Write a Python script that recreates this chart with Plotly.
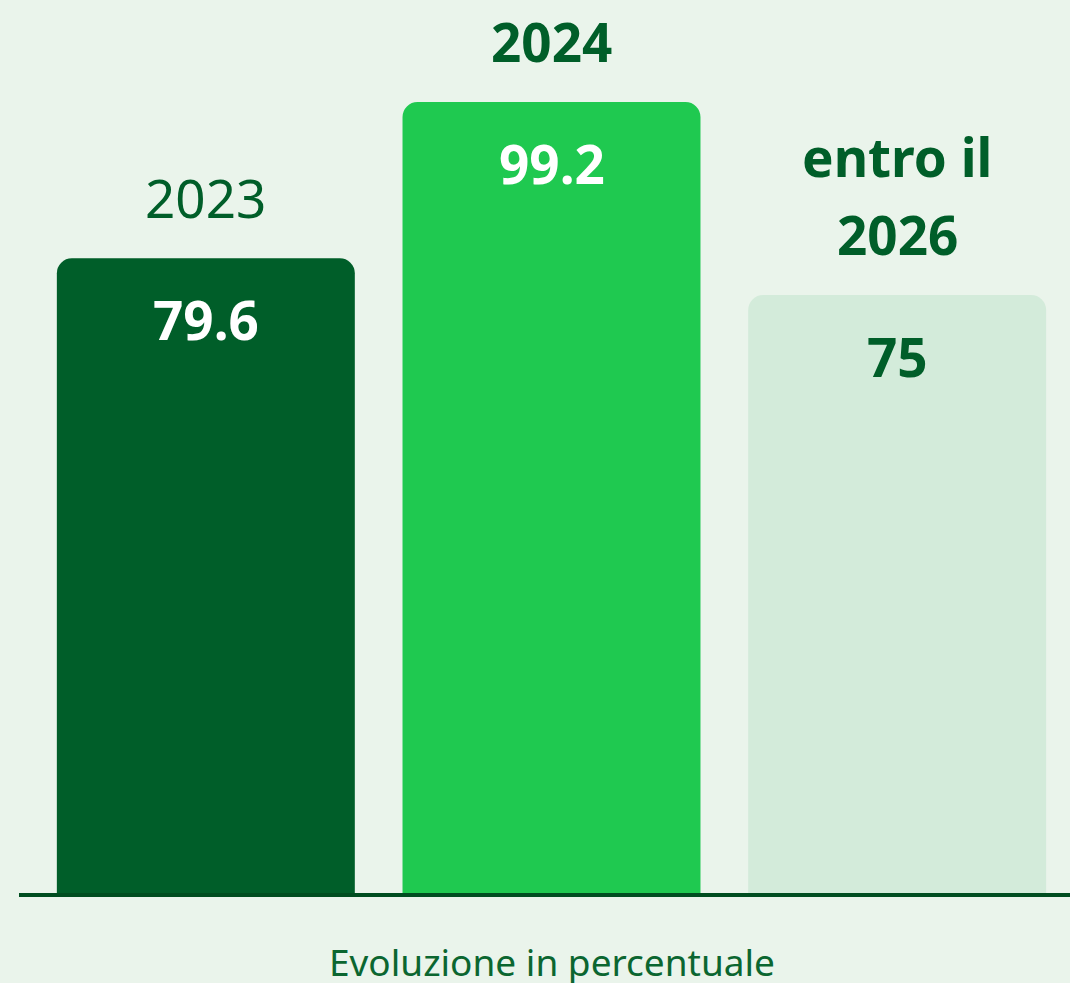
import plotly.graph_objects as go

categories = ["2023", "2024", "entro il<br>2026"]
values = [79.6, 99.2, 75]
value_labels = ["79.6", "99.2", "75"]
bar_colors = ["#005E29", "#1FC950", "#D3EBDA"]
value_text_colors = ["#FFFFFF", "#FFFFFF", "#005E29"]
category_bold = [False, True, True]
axis_title = "Evoluzione in percentuale"

BG = "#EAF4EB"
DARK = "#005E29"
FONT = "Noto Sans"
LINE_STEP = 78

fig = go.Figure()
fig.add_trace(go.Bar(
    x=categories, y=values,
    marker=dict(color=bar_colors, line=dict(width=0)),
    hoverinfo="skip",
))

annotations = []
for i, (cat, v, lab, tc, bold) in enumerate(zip(categories, values, value_labels, value_text_colors, category_bold)):
    annotations.append(dict(
        x=i, y=v, xref="x", yref="y",
        text=lab, showarrow=False,
        yanchor="middle", yshift=-61,
        font=dict(family=FONT, size=53, color=tc, weight="bold"),
    ))
    lines = cat.split("<br>")
    for k, line in enumerate(reversed(lines)):
        annotations.append(dict(
            x=i, y=v, xref="x", yref="y",
            text=line, showarrow=False,
            yanchor="bottom", yshift=22 + k * LINE_STEP,
            font=dict(family=FONT, size=53, color=DARK, weight="bold" if bold else "normal"),
        ))
annotations.append(dict(
    x=0.5, y=0, xref="paper", yref="paper",
    text=axis_title, showarrow=False,
    yanchor="middle", yshift=-68,
    font=dict(family=FONT, size=37, color="#0B6630"),
))

fig.add_shape(
    type="line", xref="paper", yref="paper",
    x0=-0.0135, x1=1.0, y0=-0.0023, y1=-0.0023,
    line=dict(color="#004D20", width=4),
)

fig.update_layout(
    width=1070, height=983,
    margin=dict(l=33, r=0, t=16, b=90),
    paper_bgcolor=BG, plot_bgcolor=BG,
    bargap=0.138,
    barcornerradius=15,
    showlegend=False,
    annotations=annotations,
    xaxis=dict(type="category", range=[-0.5, 2.5], autorange=False, showticklabels=False, showgrid=False, zeroline=False, showline=False, ticks=""),
    yaxis=dict(range=[0, 110], autorange=False, showticklabels=False, showgrid=False, zeroline=False, showline=False, ticks=""),
)

fig.write_html("out.html")
